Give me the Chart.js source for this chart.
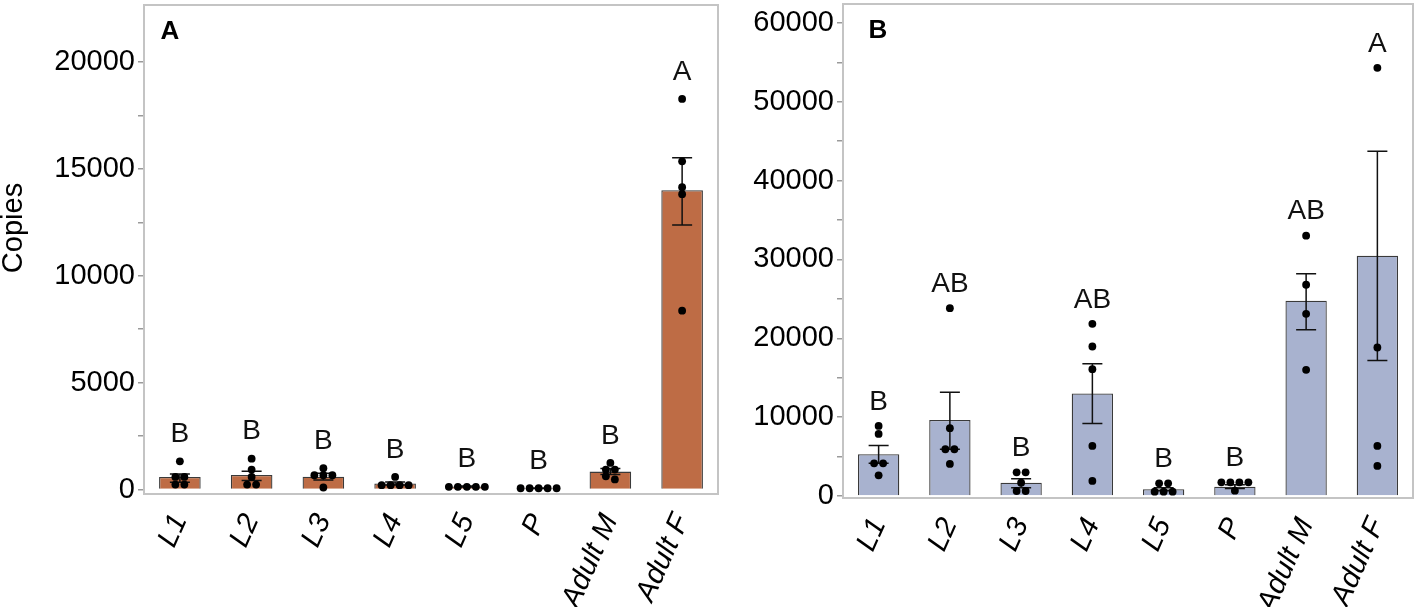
<!DOCTYPE html>
<html><head><meta charset="utf-8">
<script src="https://cdn.jsdelivr.net/npm/chart.js@4.4.1/dist/chart.umd.min.js"></script>
<style>
html,body{margin:0;padding:0;background:#fff;width:1417px;height:607px;overflow:hidden}
canvas{position:absolute;top:0}
#ca{left:0}
#cb{left:722px}
</style></head><body>
<canvas id="ca" width="722" height="607"></canvas>
<canvas id="cb" width="695" height="607"></canvas>
<script>
// ---------- DATA ----------
const categories = ['L1', 'L2', 'L3', 'L4', 'L5', 'P', 'Adult M', 'Adult F'];

// Panel A
const meanA = [590, 683, 600, 280, 140, 62, 839, 14000];
const errHighA = [730, 854, 760, 350, 165, 75, 978, 15520];
const errLowA = [342, 419, 440, 210, 115, 50, 700, 12372];
const dotsA = [
  [1320, 590, 590, 233, 233],
  [1444, 932, 590, 233, 233],
  [994, 668, 668, 668, 93],
  [590, 202, 202, 202, 202],
  [124, 124, 124, 124, 124],
  [60, 60, 60, 60, 60],
  [1243, 932, 932, 620, 470],
  [18270, 15354, 14143, 13817, 8364]
];
const lettersA = ['B', 'B', 'B', 'B', 'B', 'B', 'B', 'A'];
const yTicksA = [0, 5000, 10000, 15000, 20000];

// Panel B
const meanB = [5294, 9656, 1694, 13001, 850, 1185, 24765, 30480];
const errHighB = [6395, 13171, 2202, 16764, 1050, 1420, 28194, 43727];
const errLowB = [4150, 5929, 1059, 9190, 650, 950, 21082, 17184];
const dotsB = [
  [8894, 7877, 4150, 4150, 2626],
  [23830, 8597, 5929, 5929, 4066],
  [3007, 3007, 1694, 635, 635],
  [21844, 18961, 16090, 6352, 1906],
  [1613, 1613, 546, 546, 546],
  [1740, 1740, 1740, 1740, 673],
  [33020, 26797, 23114, 16002],
  [54317, 18834, 6350, 3810]
];
const lettersB = ['B', 'AB', 'B', 'AB', 'B', 'B', 'AB', 'A'];
const yTicksB = [0, 10000, 20000, 30000, 40000, 50000, 60000];

const yLabel = 'Copies';

// ---------- STYLE ----------
const FONT = '"Liberation Sans", Arial, Helvetica, sans-serif';

function withMinor(major) {
  const out = [];
  for (let i = 0; i < major.length; i++) {
    out.push(major[i]);
    if (i < major.length - 1) out.push((major[i] + major[i + 1]) / 2);
  }
  return out;
}

const decoPlugin = {
  id: 'deco',
  beforeDatasetsDraw(chart, args, o) {
    const a = chart.chartArea, ctx = chart.ctx;
    ctx.save();
    ctx.strokeStyle = '#c4c4c4';
    ctx.lineWidth = 2;
    ctx.strokeRect(a.left, a.top, a.right - a.left, a.bottom - a.top);
    ctx.restore();
  },
  afterDatasetsDraw(chart, args, o) {
    const ctx = chart.ctx, xs = chart.scales.x, ys = chart.scales.y;
    ctx.save();
    // error bars
    ctx.strokeStyle = '#111';
    ctx.lineWidth = 1.5;
    o.hi.forEach((h, i) => {
      const cx = xs.getPixelForValue(i);
      const yh = ys.getPixelForValue(h), yl = ys.getPixelForValue(o.lo[i]);
      ctx.beginPath();
      ctx.moveTo(cx, yh); ctx.lineTo(cx, yl);
      ctx.moveTo(cx - 10, yh); ctx.lineTo(cx + 10, yh);
      ctx.moveTo(cx - 10, yl); ctx.lineTo(cx + 10, yl);
      ctx.stroke();
    });
    // dots (grouped horizontally when overlapping)
    ctx.fillStyle = '#000';
    o.dots.forEach((vals, i) => {
      const cx = xs.getPixelForValue(i);
      const pts = vals.map(v => ys.getPixelForValue(v)).sort((p, q) => p - q);
      const groups = [];
      pts.forEach(p => {
        const g = groups[groups.length - 1];
        if (g && Math.abs(p - g[0]) < 5) g.push(p); else groups.push([p]);
      });
      groups.forEach(g => {
        const n = g.length;
        g.forEach((p, k) => {
          ctx.beginPath();
          ctx.arc(cx + (k - (n - 1) / 2) * 9, p, 3.9, 0, Math.PI * 2);
          ctx.fill();
        });
      });
      // letters
      const top = Math.min(ys.getPixelForValue(o.hi[i]), ...pts);
      ctx.font = '28px ' + FONT;
      ctx.textAlign = 'center';
      ctx.textBaseline = 'middle';
      ctx.fillStyle = '#111';
      ctx.fillText(o.letters[i], cx, top - o.gap);
      ctx.fillStyle = '#000';
    });
    ctx.restore();
  },
  afterDraw(chart, args, o) {
    const ctx = chart.ctx, a = chart.chartArea;
    ctx.save();
    ctx.fillStyle = '#000';
    ctx.font = 'bold 26px ' + FONT;
    ctx.textAlign = 'center';
    ctx.textBaseline = 'middle';
    ctx.fillText(o.title, a.left + o.titleDx, a.top + o.titleDy);
    if (o.ylabel) {
      ctx.font = '29px ' + FONT;
      ctx.translate(22, 228);
      ctx.rotate(-Math.PI / 2);
      ctx.textBaseline = 'alphabetic';
      ctx.fillText(o.ylabel, 0, 0);
    }
    ctx.restore();
  }
};

function makeChart(id, cfg) {
  const major = new Set(cfg.ticks);
  const all = withMinor(cfg.ticks);
  return new Chart(document.getElementById(id), {
    type: 'bar',
    data: {
      labels: categories,
      datasets: [{
        data: cfg.mean,
        backgroundColor: cfg.color,
        borderColor: '#3a3a3a',
        borderWidth: 1.3,
        barPercentage: 0.58,
        categoryPercentage: 1.0
      }]
    },
    options: {
      responsive: false,
      animation: false,
      devicePixelRatio: 1,
      layout: { padding: { top: cfg.top, right: 4, left: 0, bottom: 0 } },
      plugins: {
        legend: { display: false },
        tooltip: { enabled: false },
        deco: {
          dots: cfg.dots, hi: cfg.hi, lo: cfg.lo, letters: cfg.letters, gap: cfg.gap,
          title: cfg.title, titleDx: cfg.titleDx, titleDy: cfg.titleDy, ylabel: cfg.ylabel
        }
      },
      scales: {
        x: {
          grid: { display: false },
          border: { display: false },
          ticks: {
            font: { family: FONT, size: 29, style: 'italic' },
            color: '#000',
            minRotation: 66, maxRotation: 66,
            padding: 7, autoSkip: false
          },
          afterFit: s => { s.height = cfg.xh; s.paddingLeft = 0; s.paddingRight = 0; }
        },
        y: {
          min: cfg.min, max: cfg.max,
          grid: { drawOnChartArea: false, tickLength: 6, tickColor: '#9a9a9a', lineWidth: 1.5 },
          border: { display: false },
          ticks: {
            font: { family: FONT, size: 29 },
            color: '#000',
            padding: 3,
            callback: v => major.has(v) ? String(v) : ''
          },
          afterBuildTicks: s => { s.ticks = all.map(v => ({ value: v })); },
          afterFit: s => { s.width = cfg.yw; s.paddingTop = 0; s.paddingBottom = 0; }
        }
      }
    },
    plugins: [decoPlugin]
  });
}

makeChart('ca', {
  mean: meanA, hi: errHighA, lo: errLowA, dots: dotsA, letters: lettersA, ticks: yTicksA,
  color: '#BE6C45', min: -210, max: 22665, top: 5, xh: 113, yw: 144, gap: 27,
  title: 'A', titleDx: 26, titleDy: 27, ylabel: yLabel
});
makeChart('cb', {
  mean: meanB, hi: errHighB, lo: errLowB, dots: dotsB, letters: lettersB, ticks: yTicksB,
  color: '#A8B2CF', min: -254, max: 62410, top: 4, xh: 109, yw: 121, gap: 24,
  title: 'B', titleDx: 35, titleDy: 27, ylabel: null
});
</script>
</body></html>
